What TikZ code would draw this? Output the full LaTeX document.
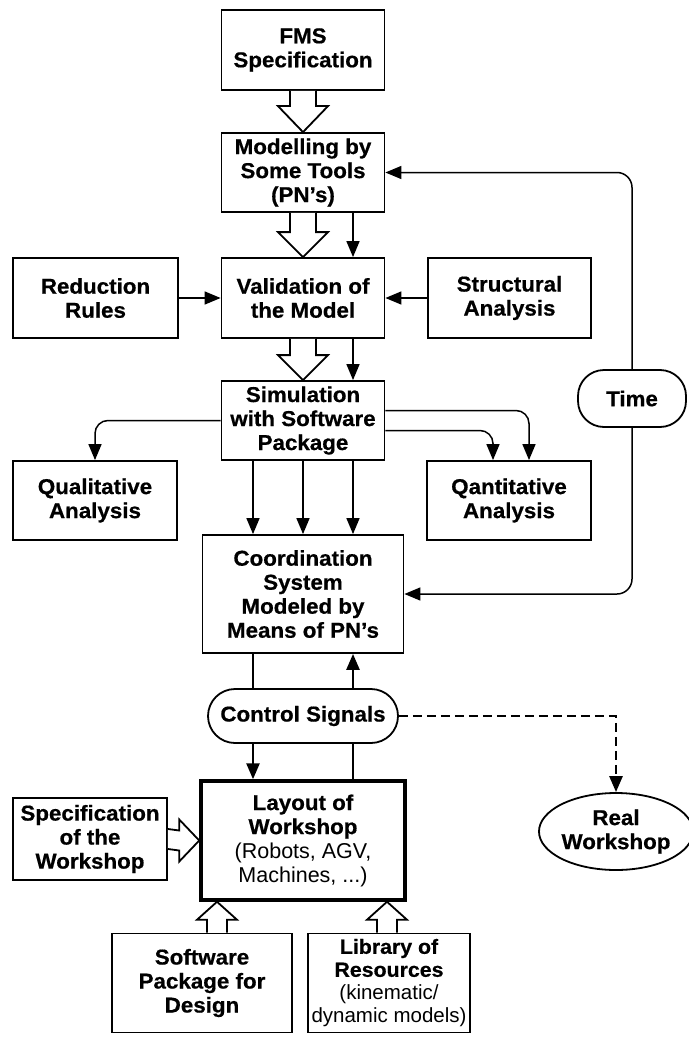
\documentclass[tikz,border=0pt]{standalone}
\usepackage{fontspec}
\setmainfont{Liberation Sans}[BoldFeatures={FakeBold=0.6, FakeStretch=1.04}]
\usetikzlibrary{arrows.meta,shapes.geometric}

\newcommand{\fmsfont}{\fontsize{21.5}{24}\selectfont}

\tikzset{
  >={Triangle[length=16pt,width=13pt]},
  box/.style={draw, line width=1.8pt, align=center, inner sep=0pt, font=\bfseries\fmsfont},
  flow/.style={line width=1.5pt},
  heavy/.style={line width=2.6pt},
  hollow/.style={draw, line width=1.8pt, fill=white, line join=miter},
}

\begin{document}
\begin{tikzpicture}[x=1pt, y=-1pt]
  \useasboundingbox (0,0) rectangle (688,1038);

  \node[box, minimum width=163, minimum height=80] (fms) at (303, 50) {FMS\\Specification};
  \node[box, minimum width=163, minimum height=79] (mod) at (303, 172.5) {Modelling by\\Some Tools\\(PN's)};
  \node[box, minimum width=165, minimum height=80] (red) at (95.5, 298) {Reduction\\Rules};
  \node[box, minimum width=163, minimum height=80] (val) at (303, 298) {Validation of\\the Model};
  \node[box, minimum width=163, minimum height=80] (struct) at (509.5, 298) {Structural\\Analysis};
  \node[box, minimum width=163, minimum height=79] (sim) at (303, 420.5) {Simulation\\with Software\\Package};
  \node[box, minimum width=164, minimum height=79] (qual) at (95, 500.5) {Qualitative\\Analysis};
  \node[box, minimum width=164, minimum height=79] (quant) at (509, 500.5) {Qantitative\\Analysis};
  \node[box, rounded corners=26pt, minimum width=108, minimum height=57] (time) at (632, 398.5) {Time};
  \node[box, minimum width=201, minimum height=118] (coord) at (303, 594) {Coordination\\System\\Modeled by\\Means of PN's};
  \node[box, rounded corners=27pt, minimum width=190, minimum height=54] (ctrl) at (303, 716) {Control Signals};
  \node[box, line width=3.5pt, minimum width=204, minimum height=119] (layout) at (303, 840.5)
    {Layout of\\Workshop\\{\mdseries (Robots, AGV,}\\{\mdseries Machines, ...)}};
  \node[box, minimum width=154, minimum height=82] (spec) at (90, 839) {Specification\\of the\\Workshop};
  \node[box, ellipse, minimum width=140, minimum height=77] (real) at (616, 831.5) {Real\\Workshop};
  \node[box, minimum width=180, minimum height=99] (soft) at (202, 983) {Software\\Package for\\Design};
  \node[box, minimum width=162, minimum height=99, font=\bfseries\fontsize{20.5}{23}\selectfont] (lib) at (389, 983)
    {Library of\\Resources\\{\mdseries (kinematic/}\\{\mdseries dynamic models)}};

  % hollow arrows down the main column
  \draw[hollow] ([xshift=-13pt]fms.south) -- ([shift={(-13,-26)}]mod.north) -- ([shift={(-25,-26)}]mod.north)
    -- (mod.north) -- ([shift={(25,-26)}]mod.north) -- ([shift={(13,-26)}]mod.north) -- ([xshift=13pt]fms.south);
  \draw[hollow] ([xshift=-13pt]mod.south) -- ([shift={(-13,-25)}]val.north) -- ([shift={(-25,-25)}]val.north)
    -- (val.north) -- ([shift={(25,-25)}]val.north) -- ([shift={(13,-25)}]val.north) -- ([xshift=13pt]mod.south);
  \draw[hollow] ([xshift=-13pt]val.south) -- ([shift={(-13,-25)}]sim.north) -- ([shift={(-25,-25)}]sim.north)
    -- (sim.north) -- ([shift={(25,-25)}]sim.north) -- ([shift={(13,-25)}]sim.north) -- ([xshift=13pt]val.south);

  % thin arrows
  \draw[flow, ->] ([xshift=50pt]mod.south) -- ([xshift=50pt]val.north);
  \draw[flow, ->] ([xshift=50pt]val.south) -- ([xshift=50pt]sim.north);
  \draw[flow, ->] (red) -- (val);
  \draw[flow, ->] (struct) -- (val);
  \foreach \dx in {-50, 0, 50}
    \draw[flow, ->] ([xshift=\dx pt]sim.south) -- ([xshift=\dx pt]coord.north);
  \draw[flow, ->, rounded corners=13pt] (sim.west) -| (qual.north);
  \draw[flow, ->, rounded corners=13pt] ([yshift=10pt]sim.east) -| ([xshift=20pt]quant.north);
  \draw[flow, ->, rounded corners=13pt] ([yshift=-10pt]sim.east) -| ([xshift=-16pt]quant.north);
  \draw[flow, ->, rounded corners=15pt] (time.north) |- (mod.east);
  \draw[flow, ->, rounded corners=15pt] (time.south) |- (coord.east);

  % control loop
  \draw[heavy] ([xshift=-50pt]coord.south) -- ([xshift=-50pt]ctrl.north);
  \draw[heavy, ->] ([xshift=50pt]ctrl.north) -- ([xshift=50pt]coord.south);
  \draw[heavy, ->] ([xshift=-50pt]ctrl.south) -- ([xshift=-50pt]layout.north);
  \draw[heavy] ([xshift=50pt]layout.north) -- ([xshift=50pt]ctrl.south);
  \draw[heavy, ->, dash pattern=on 9pt off 5pt] (ctrl.east) -| (real.north);

  % inputs to the layout
  \draw[hollow] ([yshift=10pt]spec.east) -- ([shift={(-20,-10)}]layout.west) -- ([shift={(-20,-21)}]layout.west)
    -- (layout.west) -- ([shift={(-20,21)}]layout.west) -- ([shift={(-20,10)}]layout.west) -- ([yshift=-10pt]spec.east);
  \coordinate (st) at ([xshift=15pt]soft.north);
  \coordinate (sh) at (st |- layout.south);
  \draw[hollow] ([xshift=-10pt]st) -- ([shift={(-10,18)}]sh) -- ([shift={(-20,18)}]sh)
    -- (sh) -- ([shift={(20,18)}]sh) -- ([shift={(10,18)}]sh) -- ([xshift=10pt]st);
  \coordinate (lt) at ([xshift=-2pt]lib.north);
  \coordinate (lh) at (lt |- layout.south);
  \draw[hollow] ([xshift=-10pt]lt) -- ([shift={(-10,18)}]lh) -- ([shift={(-20,18)}]lh)
    -- (lh) -- ([shift={(20,18)}]lh) -- ([shift={(10,18)}]lh) -- ([xshift=10pt]lt);
\end{tikzpicture}
\end{document}
